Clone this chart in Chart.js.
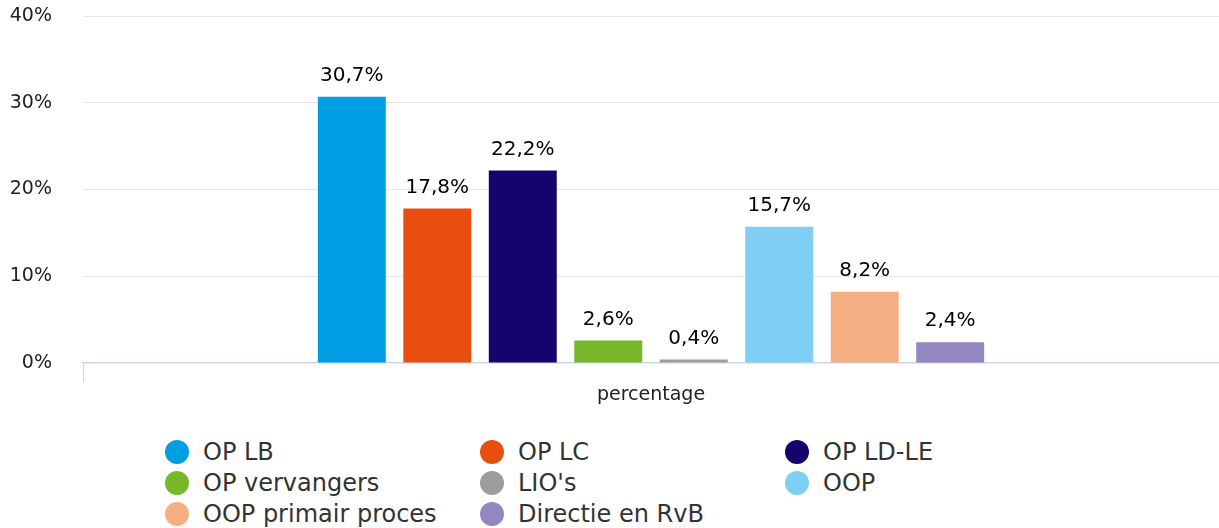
<!DOCTYPE html>
<html>
<head>
<meta charset="utf-8">
<script src="https://cdn.jsdelivr.net/npm/chart.js@4/dist/chart.umd.min.js"></script>
<style>
  html, body { margin: 0; padding: 0; background: #fff; }
  #wrap { position: relative; width: 1219px; height: 528px; }
  #chart-box { position: absolute; left: 0; top: 0; width: 1219px; height: 420px; }
  #legend { position: absolute; left: 165px; top: 437px; width: 1000px;
            font-family: "DejaVu Sans", sans-serif; font-size: 24px; color: #333; }
  .lg-item { position: absolute; display: flex; align-items: center; white-space: nowrap; height: 30px; }
  .lg-dot { width: 24px; height: 24px; border-radius: 50%; margin-right: 14px; }
</style>
</head>
<body>
<div id="wrap">
  <div id="chart-box"><canvas id="chartjs-0"></canvas></div>
  <div id="legend"></div>
</div>
<script>
// data
var categories = ["percentage"];
var seriesNames = ["OP LB", "OP LC", "OP LD-LE", "OP vervangers", "LIO's", "OOP", "OOP primair proces", "Directie en RvB"];
var seriesValues = [30.7, 17.8, 22.2, 2.6, 0.4, 15.7, 8.2, 2.4];
var seriesColors = ["#009fe3", "#e84e0f", "#14046e", "#76b82a", "#9d9d9c", "#7fcef4", "#f6ae83", "#9486c1"];
var yTicks = [0, 10, 20, 30, 40];

var fontFam = "'DejaVu Sans', sans-serif";

function fmt(v) {
    return v.toFixed(1).replace('.', ',') + '%';
}

var datasets = [];
for (let i = 0; i < seriesNames.length; i++) {
    datasets.push({
        label: seriesNames[i],
        data: [seriesValues[i]],
        backgroundColor: seriesColors[i],
        borderWidth: 0,
        categoryPercentage: 0.602,
        barPercentage: 0.795
    });
}

// value labels above bars
var valueLabels = {
    id: 'valueLabels',
    afterDatasetsDraw(chart) {
        var ctx = chart.ctx;
        ctx.save();
        ctx.font = "20px " + fontFam;
        ctx.fillStyle = "#000";
        ctx.textAlign = "center";
        ctx.textBaseline = "middle";
        chart.data.datasets.forEach((ds, i) => {
            var bar = chart.getDatasetMeta(i).data[0];
            ctx.fillText(fmt(ds.data[0]), bar.x, bar.y - 21);
        });
        ctx.restore();
    }
};

var ctx = document.getElementById("chartjs-0");
var myChart = new Chart(ctx, {
    type: "bar",
    data: {
        labels: categories,
        datasets: datasets
    },
    options: {
        responsive: true,
        maintainAspectRatio: false,
        animation: false,
        layout: { padding: { top: 16, right: 0, left: 2, bottom: 0 } },
        plugins: {
            legend: { display: false },
            tooltip: { enabled: false }
        },
        scales: {
            x: {
                offset: true,
                grid: { drawOnChartArea: false, color: "#ccd6eb", tickLength: 19 },
                border: { color: "#ccd6eb", width: 1.5 },
                ticks: { color: "#222", padding: 2, font: { family: fontFam, size: 19 } },
                afterFit(scale) { scale.height = 57; }
            },
            y: {
                min: 0,
                max: 40,
                afterBuildTicks(scale) { scale.ticks = yTicks.map(v => ({ value: v })); },
                grid: {
                    drawTicks: false,
                    color: (c) => c.tick && c.tick.value === 0 ? "rgba(0,0,0,0)" : "#e6e6e6"
                },
                border: { display: false },
                ticks: {
                    color: "#222",
                    padding: 31,
                    font: { family: fontFam, size: 19 },
                    callback: (v) => v + '%'
                },
                afterFit(scale) {
                    scale.width = 81;
                    scale.paddingTop = 0;
                    scale.paddingBottom = 0;
                }
            }
        }
    },
    plugins: [valueLabels]
});

// legend, 3 columns
var colX = [0, 315, 620];
var rowY = [0, 31, 62];
var legend = document.getElementById("legend");
seriesNames.forEach((name, i) => {
    var item = document.createElement("div");
    item.className = "lg-item";
    item.style.left = colX[i % 3] + "px";
    item.style.top = rowY[Math.floor(i / 3)] + "px";
    item.innerHTML = '<span class="lg-dot" style="background:' + seriesColors[i] + '"></span><span>' + name + '</span>';
    legend.appendChild(item);
});
</script>
</body>
</html>
